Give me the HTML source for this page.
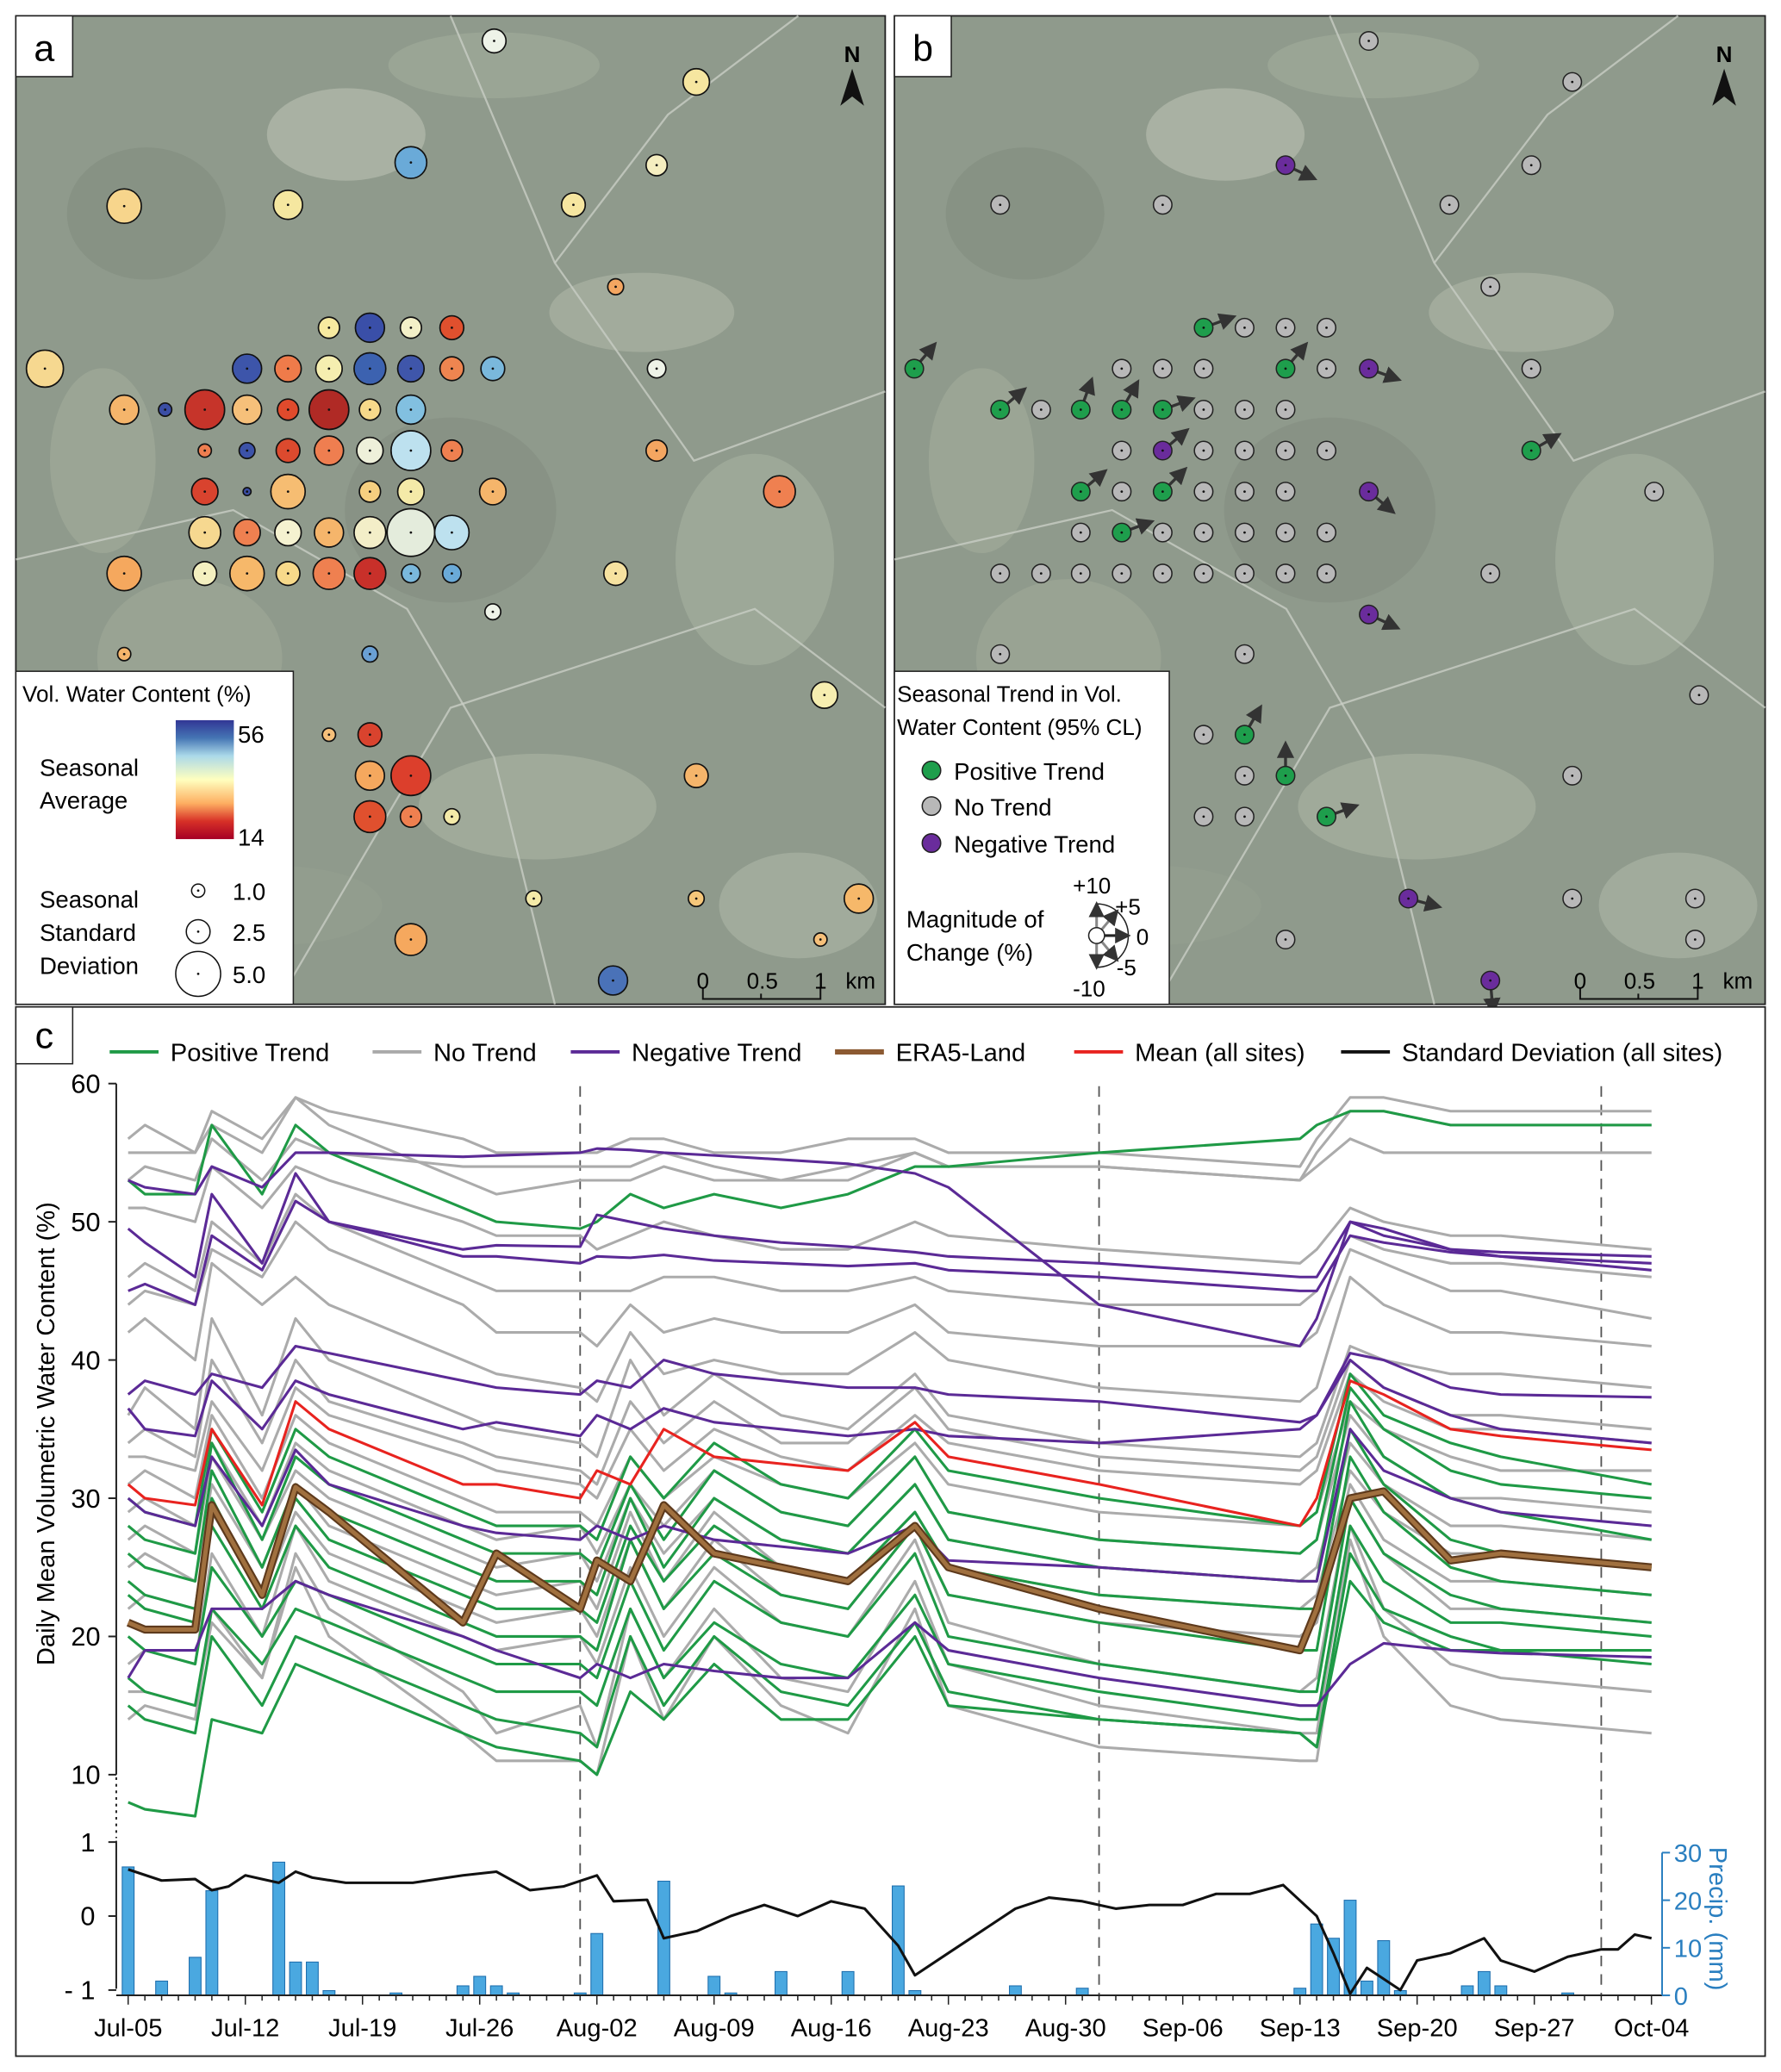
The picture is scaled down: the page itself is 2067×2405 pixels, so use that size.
<!DOCTYPE html>
<html><head><meta charset="utf-8"><style>
html,body{margin:0;padding:0;background:#fff;}
svg{display:block;font-family:"Liberation Sans",Arial,sans-serif;}
</style></head><body>
<svg id="fig" width="2067" height="2405" viewBox="0 0 1348 1568" preserveAspectRatio="none" xmlns="http://www.w3.org/2000/svg">
<defs>
<linearGradient id="cbar" x1="0" y1="0" x2="0" y2="1">
<stop offset="0" stop-color="#313695"/><stop offset="0.15" stop-color="#4575b4"/><stop offset="0.3" stop-color="#abd9e9"/><stop offset="0.5" stop-color="#ffffbf"/><stop offset="0.7" stop-color="#fdae61"/><stop offset="0.85" stop-color="#d73027"/><stop offset="1" stop-color="#a50026"/>
</linearGradient>
<marker id="ah" markerWidth="6" markerHeight="6" refX="3" refY="3" orient="auto"><path d="M0,0 L6,3 L0,6 z" fill="#333"/></marker>
</defs>
<rect width="1348" height="1568" fill="#fff"/>
<g id="mapA"></g>
<g id="mapB"></g>
<g id="chart"></g>
</svg>
<script>
// ---------- chart data ----------
const days = [0,1,4,5,8,10,12,20,22,27,28,30,32,35,39,43,47,49,58,70,71,73,75,79,82,91];
const g1=[55,55,55,58,56,59,58,56,55,55,55,56,56,55,55,56,56,55,55,54,56,59,59,58,58,58];
const g2=[56,57,55,57,55,59,57,53,52,53,53,53,54,53,53,53,55,54,54,53,55,58,58,57,57,57];
const g3=[53,54,53,56,53,56,55,54,54,54,54,54,55,54,53,54,55,54,54,53,54,56,55,55,55,55];
const g4=[51,51,50,54,51,54,53,50,49,49,48,49,50,49,48,48,50,49,48,47,48,51,50,49,49,48];
const g5=[46,47,45,50,47,52,50,46,45,45,45,45,46,46,45,45,46,45,44,44,45,49,48,47,47,46];
const g6=[44,45,44,48,46,50,48,44,42,42,41,44,42,43,42,42,44,42,41,41,42,48,47,45,45,43];
const g7=[42,43,40,47,44,46,44,40,39,38,37,42,39,40,39,39,42,40,38,37,38,46,44,42,42,41];
const g8=[36,38,35,43,36,43,40,36,35,34,33,40,36,39,36,35,39,36,34,33,34,41,40,39,39,38];
const g9=[34,35,33,40,34,40,37,34,33,32,31,37,34,37,34,34,38,35,33,32,33,40,38,36,36,35];
const g10=[33,33,32,37,32,38,36,33,32,31,30,35,32,35,33,32,36,34,32,31,32,39,37,35,35,34];
const g11=[31,32,30,36,30,36,34,30,29,29,28,33,30,33,31,30,34,31,29,28,29,37,35,33,32,32];
const g12=[29,30,28,34,28,34,32,28,27,28,26,31,28,32,29,28,33,29,27,26,27,36,33,30,30,29];
const g13=[27,28,26,33,27,32,30,26,25,26,24,30,26,30,27,26,31,27,25,24,25,34,31,28,28,27];
const g14=[25,26,24,31,25,31,28,24,23,24,22,29,24,29,25,24,29,25,23,22,23,32,29,26,26,25];
const g15=[22,23,22,29,23,29,26,22,21,22,20,27,22,27,23,22,28,23,21,20,21,31,27,24,24,23];
const g16=[18,19,18,26,20,28,24,20,19,20,18,25,20,25,21,20,27,21,18,16,17,30,26,22,22,21];
const g17=[14,15,14,22,17,26,22,16,13,15,12,22,17,22,17,16,24,18,15,13,13,28,22,18,17,16];
const g18=[16,16,15,21,17,25,20,13,11,11,10,20,14,20,15,13,22,15,12,11,11,27,20,15,14,13];
const p1=[53,52,52,57,52,57,55,51,50,49.5,50,52,51,52,51,52,54,54,55,56,57,58,58,57,57,57];
const p2=[30,29,28,35,29,35,33,29,28,28,27,33,30,34,31,30,35,32,30,28,29,39,36,34,33,31];
const p3=[28,27,26,34,27,33,31,27,26,26,25,31,27,32,29,28,33,29,27,26,27,38,35,32,31,30];
const p4=[26,25,24,32,25,31,29,25,24,24,23,30,25,30,27,26,31,27,25,24,24,37,33,30,29,27];
const p5=[24,23,22,30,23,30,27,23,22,22,21,28,24,28,25,24,29,25,23,22,22,35,31,27,26,25];
const p6=[23,22,21,28,22,28,25,21,20,20,19,27,22,26,23,22,28,23,21,19,19,33,29,25,24,23];
const p7=[20,19,18,25,20,24,23,19,18,18,17,24,19,24,21,20,26,20,18,16,16,30,26,23,22,21];
const p8=[17,16,15,22,18,22,21,17,16,16,15,22,17,21,18,17,23,18,16,14,14,28,24,21,21,20];
const p9=[15,14,13,20,15,20,19,15,14,13,12,20,15,20,16,15,21,16,14,13,12,26,22,20,19,19];
const p10=[8,7.5,7,14,13,18,17,13,12,11,10,16,14,18,14,14,20,15,14,13,12,24,21,19,19,18];
const n1=[53,52.5,52,54,52.5,55,55,54.7,54.8,55,55.3,55.2,55,54.8,54.5,54.2,53.5,52.5,44,41,43,50,49,48,47.8,47.5];
const n2=[49.5,48.5,46,52,47,53.5,50,47.5,47.5,47,47.5,47.4,47.6,47.2,47,46.8,47,46.5,46,45,45,49,48.5,47.8,47.5,47];
const n3=[45,45.5,44,49,46.5,51.5,50,48,48.3,48.2,50.5,50,49.5,49,48.5,48.2,47.8,47.5,47,46,46,50,49.5,48,47.5,46.5];
const n4=[37.5,38.5,37.5,39,38,41,40.5,38.5,38,37.5,38.5,38,40,39,38.5,38,38,37.5,37,35.5,36,40.5,40,38,37.5,37.3];
const n5=[36.5,35,34.5,38.5,35,38.5,37.5,35,35.5,34.5,36,35,36.5,35.5,35,34.5,35,34.5,34,35,36,40,38,36,35,34];
const n6=[30,29,28,33,28,33.5,31,28,27.5,27,28,27,28,27,26.5,26,28,25.5,25,24,24,35,32,30,29,28];
const n7=[17,19,19,22,22,24,23,20,19,17,18,17,18,17.5,17,17,21,19,17,15,15,18,19.5,19,18.8,18.5];
const meanVals=[31,30,29.5,35,29.5,37,35,31,31,30,32,31,35,33,32.5,32,35.5,33,31,28,30,38.5,37.5,35,34.5,33.5];
const era5Vals=[21,20.5,20.5,29.5,23,30.8,29,21,26,22,25.5,24,29.5,26,25,24,28,25,22,19,22,30,30.5,25.5,26,25];
const sdDays=[0,2,4,5,6,7,8,9,10,11,13,17,20,22,24,26,28,29,31,32,34,36,38,40,42,44,46,47,49,51,53,55,57,59,61,63,65,67,69,71,72,73,74,75,76,77,79,81,82,84,86,88,89,90,91];
const sdVals=[0.63,0.48,0.5,0.35,0.4,0.55,0.5,0.45,0.6,0.52,0.45,0.45,0.55,0.6,0.35,0.4,0.55,0.2,0.22,-0.3,-0.2,0,0.15,0,0.2,0.1,-0.4,-0.8,-0.5,-0.2,0.1,0.25,0.2,0.1,0.15,0.15,0.3,0.3,0.42,0,-0.5,-1.05,-0.7,-0.85,-1.0,-0.6,-0.5,-0.3,-0.6,-0.75,-0.55,-0.45,-0.45,-0.25,-0.3];
const precipDays=[0,2,4,5,9,10,11,12,16,20,21,22,23,27,28,32,35,36,39,43,46,47,53,57,70,71,72,73,74,75,76,80,81,82,86];
const precipVals=[27,3,8,22,28,7,7,1,0.5,2,4,2,0.5,0.5,13,24,4,0.5,5,5,23,1,2,1.5,1.5,15,12,20,3,11.5,1,2,5,2,0.5];
const yTicks=[10,20,30,40,50,60];
const xTickLabels=['Jul-05','Jul-12','Jul-19','Jul-26','Aug-02','Aug-09','Aug-16','Aug-23','Aug-30','Sep-06','Sep-13','Sep-20','Sep-27','Oct-04'];
const monthStarts=[27,58,88];
const precipTicks=[0,10,20,30];
const sdTicks=[1,0,-1];

// ---------- map data ----------
const sitesA=[[374,31,9,'#eef3e8'],[527,62,10,'#f6e6a0'],[94,156,13,'#f7d58c'],[218,155,11,'#f5e7a0'],[311,123,12,'#6aaad8'],[497,125,8,'#f5eec0'],[434,155,9,'#f6e6a0'],[466,217,6,'#f4a661'],
[249,248,8,'#f7eaa0'],[280,248,11,'#3a4fa8'],[311,248,8,'#f3f0c8'],[342,248,9,'#e0502e'],
[34,279,14,'#f6d890'],[187,279,11,'#3d55aa'],[218,279,10,'#ef7b4a'],[249,279,10,'#f5eeb0'],[280,279,12,'#3c62b0'],[311,279,10,'#3f56aa'],[342,279,9,'#ef8550'],[373,279,9,'#7ab8dc'],[497,279,7,'#eef3e8'],
[94,310,11,'#f5b56b'],[125,310,5,'#3b4ea5'],[155,310,15,'#c6342a'],[187,310,11,'#f6c07a'],[218,310,8,'#e04a2c'],[249,310,15,'#b02a25'],[280,310,8,'#f7d98a'],[311,310,11,'#82c0e0'],
[155,341,5,'#ee7e50'],[187,341,6,'#3c52a8'],[218,341,9,'#dc4a2e'],[249,341,11,'#ef7e50'],[280,341,10,'#eef0da'],[311,341,15,'#bde1ef'],[342,341,8,'#ef8050'],[497,341,8,'#f4a661'],
[155,372,10,'#d9432e'],[187,372,3,'#3b4ea5'],[218,372,13,'#f6bd72'],[280,372,8,'#f6cf80'],[311,372,10,'#f4eaa8'],[373,372,10,'#f5b56b'],[590,372,12,'#ef8050'],
[155,403,12,'#f6d890'],[187,403,10,'#ef8050'],[218,403,10,'#f5f2d0'],[249,403,11,'#f5b56b'],[280,403,12,'#f3eec8'],[311,403,18,'#e4ecdc'],[342,403,13,'#bde1ef'],
[94,434,13,'#f5a85e'],[155,434,9,'#f4f0c0'],[187,434,13,'#f6b86a'],[218,434,9,'#f7d98a'],[249,434,12,'#ef8050'],[280,434,12,'#c8302a'],[311,434,7,'#7ab8dc'],[342,434,7,'#6aaad8'],[466,434,9,'#f6e2a0'],
[373,463,6,'#eef3e8'],[94,495,5,'#f5b56b'],[280,495,6,'#6aa0d4'],[624,526,10,'#f6eeb0'],[249,556,5,'#f6c07a'],[280,556,9,'#d9432e'],[280,587,11,'#f5a85e'],[311,587,15,'#dc3f2c'],
[280,618,12,'#e0502e'],[311,618,8,'#ef8050'],[342,618,6,'#f4eaa8'],[527,587,9,'#f5b56b'],[404,680,6,'#f4eaa8'],[527,680,6,'#f6c77a'],[650,680,11,'#f6b86a'],[311,711,12,'#f5a85e'],[621,711,5,'#f6c07a'],[464,742,11,'#4a72b8']];
const graySitesB=[[1036,31],[1190,62],[757,155],[880,155],[1097,155],[1159,125],[1128,217],[849,279],[880,279],[911,279],[942,248],[973,248],[1004,248],[1004,279],[1159,279],[788,310],[911,310],[942,310],[973,310],[849,341],[911,341],[942,341],[973,341],[1004,341],[849,372],[911,372],[942,372],[973,372],[818,403],[880,403],[911,403],[942,403],[973,403],[1004,403],[757,434],[788,434],[818,434],[849,434],[880,434],[911,434],[942,434],[973,434],[1004,434],[1128,434],[1252,372],[757,495],[942,495],[1286,526],[911,556],[942,587],[911,618],[942,618],[1190,587],[1190,680],[1283,680],[1283,711],[973,711]];
const greenSitesB=[[692,279,-50],[757,310,-40],[818,310,-70],[849,310,-60],[880,310,-20],[911,248,-20],[973,279,-50],[1159,341,-30],[818,372,-40],[880,372,-45],[849,403,-20],[942,556,-60],[973,587,-90],[1004,618,-20]];
const purpleSitesB=[[973,125,25],[1036,279,20],[880,341,-40],[1036,372,40],[1036,465,25],[1066,680,15],[1128,742,85]];

const NS='http://www.w3.org/2000/svg';
function mk(parent,tag,attrs,text){const e=document.createElementNS(NS,tag);for(const k in attrs)e.setAttribute(k,attrs[k]);if(text!==undefined)e.textContent=text;parent.appendChild(e);return e;}

// ---------- maps ----------
function drawMapBase(g,x0,w,tag){
  const bg=mk(g,'rect',{x:x0,y:12,width:w,height:748,fill:'#8f9a8c',stroke:'#222','stroke-width':1.2});
  
  
  const patches=[[0.38,0.12,60,35,'#b3bbad'],[0.72,0.30,70,30,'#a9b2a2'],[0.55,0.05,80,25,'#9ea998'],[0.85,0.55,60,80,'#a3ae9d'],[0.2,0.65,70,60,'#9ca696'],[0.6,0.8,90,40,'#a6b0a0'],[0.3,0.9,80,30,'#939e8f'],[0.1,0.45,40,70,'#9fa999'],[0.9,0.9,60,40,'#a8b2a2'],[0.5,0.5,80,70,'#848f81'],[0.15,0.2,60,50,'#838f80']];
  patches.forEach(p=>{
    const e=mk(g,'ellipse',{cx:x0+p[0]*w,cy:12+p[1]*748,rx:p[2],ry:p[3],fill:p[4],opacity:0.7});
    
    
  });
  const roads=[[[0.0,0.55],[0.25,0.5],[0.45,0.6],[0.55,0.75],[0.62,1.0]],[[0.5,0.0],[0.62,0.25],[0.78,0.45],[1.0,0.38]],[[0.3,1.0],[0.5,0.7],[0.85,0.6],[1.0,0.7]],[[0.62,0.25],[0.75,0.1],[0.9,0.0]]];
  roads.forEach(r=>{
    const e=mk(g,'polyline',{points:r.map(q=>(x0+q[0]*w)+','+(12+q[1]*748)).join(' '),fill:'none',stroke:'#c8cdc4','stroke-width':1.5,opacity:0.8});
    
    
  });
}
function northArrow(g,x){
  const t=mk(g,'text',{x:x,y:47,'font-size':17,'font-weight':'bold','text-anchor':'middle'},'N');
  
  
  const a=mk(g,'path',{d:`M${x},52 L${x-9},80 L${x},73 L${x+9},80 Z`,fill:'#111'});
  
  
}
function scaleBar(g,x){
  const s=mk(g,'g',{});
  
  
  mk(s,'path',{d:`M${x},748 V756 H${x+89} V748 M${x+44},752 V756`,fill:'none',stroke:'#111','stroke-width':1.3});
  mk(s,'text',{x:x,y:748,'font-size':17,'text-anchor':'middle'},'0');
  mk(s,'text',{x:x+45,y:748,'font-size':17,'text-anchor':'middle'},'0.5');
  mk(s,'text',{x:x+89,y:748,'font-size':17,'text-anchor':'middle'},'1');
  mk(s,'text',{x:x+108,y:748,'font-size':17},'km');
}
function panelLabel(g,x,y,w,h,txt,name){
  const lg=mk(g,'g',{});
  
  
  mk(lg,'rect',{x:x,y:y,width:w,height:h,fill:'#fff',stroke:'#222','stroke-width':1});
  mk(lg,'text',{x:x+w/2,y:y+h-12,'font-size':28,'text-anchor':'middle'},txt);
}
const gA=document.getElementById('mapA');
drawMapBase(gA,12,658,'panel-a');
sitesA.forEach(s=>{
  const c=mk(gA,'circle',{cx:s[0],cy:s[1],r:s[2],fill:s[3],stroke:'#111','stroke-width':1.1});
  
  
  mk(gA,'circle',{cx:s[0],cy:s[1],r:0.9,fill:'#111'});
});
northArrow(gA,645);
scaleBar(gA,532);
panelLabel(gA,12,12,43,46,'a','panel-a-label');
(function(){
  const lg=mk(gA,'g',{});
  
  
  mk(lg,'rect',{x:12,y:508,width:210,height:252,fill:'#fff',stroke:'#222','stroke-width':1});
  mk(lg,'text',{x:17,y:531,'font-size':17},'Vol. Water Content (%)');
  mk(lg,'text',{x:30,y:587,'font-size':18},'Seasonal');
  mk(lg,'text',{x:30,y:612,'font-size':18},'Average');
  const cb=mk(lg,'rect',{x:133,y:545,width:44,height:90,fill:'url(#cbar)'});
  
  
  mk(lg,'text',{x:180,y:562,'font-size':18},'56');
  mk(lg,'text',{x:180,y:640,'font-size':18},'14');
  mk(lg,'text',{x:30,y:687,'font-size':18},'Seasonal');
  mk(lg,'text',{x:30,y:712,'font-size':18},'Standard');
  mk(lg,'text',{x:30,y:737,'font-size':18},'Deviation');
  [[674,5,'1.0'],[705,9,'2.5'],[737,17,'5.0']].forEach(q=>{
    mk(lg,'circle',{cx:150,cy:q[0],r:q[1],fill:'#fff',stroke:'#111','stroke-width':1});
    mk(lg,'circle',{cx:150,cy:q[0],r:0.9,fill:'#111'});
    mk(lg,'text',{x:176,y:q[0]+7,'font-size':18},q[2]);
  });
})();

const gB=document.getElementById('mapB');
drawMapBase(gB,677,659,'panel-b');
function siteB(x,y,fill,name){
  const c=mk(gB,'circle',{cx:x,cy:y,r:7,fill:fill,stroke:'#222','stroke-width':1});
  
  
  mk(gB,'circle',{cx:x,cy:y,r:0.9,fill:'#111'});
}
function arrowB(x,y,ang){
  const a=ang*Math.PI/180;
  const l=mk(gB,'line',{x1:x+7*Math.cos(a),y1:y+7*Math.sin(a),x2:x+20*Math.cos(a),y2:y+20*Math.sin(a),stroke:'#333','stroke-width':2.2,'marker-end':'url(#ah)'});
  
  
}
graySitesB.forEach(s=>siteB(s[0],s[1],'#b8b8b8','site-no-trend'));
greenSitesB.forEach(s=>{arrowB(s[0],s[1],s[2]);siteB(s[0],s[1],'#1e9e4c','site-positive-trend');});
purpleSitesB.forEach(s=>{arrowB(s[0],s[1],s[2]);siteB(s[0],s[1],'#6a2c9c','site-negative-trend');});
northArrow(gB,1305);
scaleBar(gB,1196);
panelLabel(gB,677,12,43,46,'b','panel-b-label');
(function(){
  const lg=mk(gB,'g',{});
  
  
  mk(lg,'rect',{x:677,y:508,width:208,height:252,fill:'#fff',stroke:'#222','stroke-width':1});
  mk(lg,'text',{x:679,y:531,'font-size':17},'Seasonal Trend in Vol.');
  mk(lg,'text',{x:679,y:556,'font-size':17},'Water Content (95% CL)');
  [[583,'#1e9e4c','Positive Trend'],[610,'#b8b8b8','No Trend'],[638,'#6a2c9c','Negative Trend']].forEach(q=>{
    mk(lg,'circle',{cx:705,cy:q[0],r:7,fill:q[1],stroke:'#222','stroke-width':1});
    mk(lg,'text',{x:722,y:q[0]+7,'font-size':18},q[2]);
  });
  mk(lg,'text',{x:686,y:702,'font-size':18},'Magnitude of');
  mk(lg,'text',{x:686,y:727,'font-size':18},'Change (%)');
  mk(lg,'path',{d:'M830,684 A24,24 0 0 1 830,732',fill:'none',stroke:'#222','stroke-width':1});
  [[-90,'#888'],[-50,'#888'],[0,'#222'],[50,'#888'],[90,'#888']].forEach(q=>{
    const a=q[0]*Math.PI/180;
    mk(lg,'line',{x1:830,y1:708,x2:830+20*Math.cos(a),y2:708+20*Math.sin(a),stroke:q[1],'stroke-width':2,'marker-end':'url(#ah)'});
  });
  mk(lg,'circle',{cx:830,cy:708,r:6,fill:'#fff',stroke:'#222','stroke-width':1});
  mk(lg,'text',{x:812,y:676,'font-size':17},'+10');
  mk(lg,'text',{x:844,y:692,'font-size':17},'+5');
  mk(lg,'text',{x:860,y:715,'font-size':17},'0');
  mk(lg,'text',{x:845,y:738,'font-size':17},'-5');
  mk(lg,'text',{x:812,y:754,'font-size':17},'-10');
})();

// ---------- chart ----------
const gC=document.getElementById('chart');
const xD=d=>97+d*12.67;
const yV=v=>820+(60-v)*10.46;
const ySD=s=>1450-s*56;
const yP=p=>1510-p*3.6;
const frame=mk(gC,'rect',{x:12,y:762,width:1324,height:794,fill:'#fff',stroke:'#222','stroke-width':1.2});


panelLabel(gC,12,762,43,43,'c','panel-c-label');

monthStarts.forEach(d=>{
  const l=mk(gC,'line',{x1:xD(d),y1:822,x2:xD(d),y2:1510,stroke:'#555','stroke-width':1.2,'stroke-dasharray':'8,6'});
  
  
});

precipDays.forEach((d,i)=>{
  const b=mk(gC,'rect',{x:xD(d)-4.5,y:yP(precipVals[i]),width:9,height:1510-yP(precipVals[i]),fill:'#4aa8e0',stroke:'#1f6fae','stroke-width':0.7});
  
  
});

function line(vals,dd,yf,color,w,name){
  const pts=vals.map((v,i)=>xD(dd[i]).toFixed(1)+','+yf(v).toFixed(1)).join(' ');
  const p=mk(gC,'polyline',{points:pts,fill:'none',stroke:color,'stroke-width':w,'stroke-linejoin':'round'});
  
  
  return p;
}
[g1,g2,g3,g4,g5,g6,g7,g8,g9,g10,g11,g12,g13,g14,g15,g16,g17,g18].forEach(s=>line(s,days,yV,'#ababab',2,'no-trend-line'));
[p1,p2,p3,p4,p5,p6,p7,p8,p9,p10].forEach(s=>line(s,days,yV,'#1f9a46',2,'positive-trend-line'));
[n1,n2,n3,n4,n5,n6,n7].forEach(s=>line(s,days,yV,'#5b2a96',2,'negative-trend-line'));
line(meanVals,days,yV,'#e8231f',2,'mean-line');
line(era5Vals,days,yV,'#5e3a1c',6,'era5-line-outline');
line(era5Vals,days,yV,'#a0703f',3.2,'era5-line');
line(sdVals,sdDays,ySD,'#111',2,'std-dev-line');

function ax(attrs,name){const e=mk(gC,'path',attrs);return e;}
ax({d:'M88,820 V1343',stroke:'#222','stroke-width':1.3,fill:'none'},'y-axis');
ax({d:'M88,1345 V1391',stroke:'#222','stroke-width':1.3,fill:'none','stroke-dasharray':'2,3'},'y-axis-break');
ax({d:'M88,1393 V1505',stroke:'#222','stroke-width':1.3,fill:'none'},'sd-axis');
ax({d:'M88,1510 H1258',stroke:'#222','stroke-width':1.3,fill:'none'},'x-axis');
ax({d:'M1258,1402 V1510',stroke:'#2a7fc0','stroke-width':1.3,fill:'none'},'precip-axis');
yTicks.forEach(v=>{
  mk(gC,'line',{x1:82,y1:yV(v),x2:88,y2:yV(v),stroke:'#222','stroke-width':1.3});
  const t=mk(gC,'text',{x:76,y:yV(v)+7,'font-size':20,'text-anchor':'end'},String(v));
  
  
});
sdTicks.forEach(v=>{
  mk(gC,'line',{x1:82,y1:ySD(v),x2:88,y2:ySD(v),stroke:'#222','stroke-width':1.3});
  const t=mk(gC,'text',{x:72,y:ySD(v)+7,'font-size':20,'text-anchor':'end'},v<0?'- 1':String(v));
  
  
});
precipTicks.forEach(v=>{
  mk(gC,'line',{x1:1258,y1:yP(v),x2:1264,y2:yP(v),stroke:'#2a7fc0','stroke-width':1.3});
  const t=mk(gC,'text',{x:1267,y:yP(v)+7,'font-size':19,fill:'#2a7fc0'},String(v));
  
  
});
for(let d=0;d<=91;d++){
  const major=d%7===0;
  mk(gC,'line',{x1:xD(d),y1:1510,x2:xD(d),y2:major?1517:1514,stroke:'#222','stroke-width':1});
}
xTickLabels.forEach((s,i)=>{
  const t=mk(gC,'text',{x:xD(i*7),y:1541,'font-size':19,'text-anchor':'middle'},s);
  
  
});
const yt=mk(gC,'text',{x:0,y:0,'font-size':19,'text-anchor':'middle',transform:'translate(41,1085) rotate(-90)'},'Daily Mean Volumetric Water Content (%)');


const pt=mk(gC,'text',{x:0,y:0,'font-size':19,'text-anchor':'middle',fill:'#2a7fc0',transform:'translate(1294,1452) rotate(90)'},'Precip.  (mm)');



const legItems=[[83,'#1f9a46','Positive  Trend'],[282,'#a9a9a9','No Trend'],[432,'#5b2a96','Negative  Trend'],[632,'#8c5a32','ERA5-Land'],[813,'#e8231f','Mean (all sites)'],[1015,'#111','Standard Deviation (all sites)']];
legItems.forEach(q=>{
  const lg=mk(gC,'g',{});
  
  
  mk(lg,'line',{x1:q[0],y1:796,x2:q[0]+37,y2:796,stroke:q[1],'stroke-width':q[2]==='ERA5-Land'?4:2.5});
  mk(lg,'text',{x:q[0]+46,y:803,'font-size':19},q[2]);
});
</script>
</body></html>
